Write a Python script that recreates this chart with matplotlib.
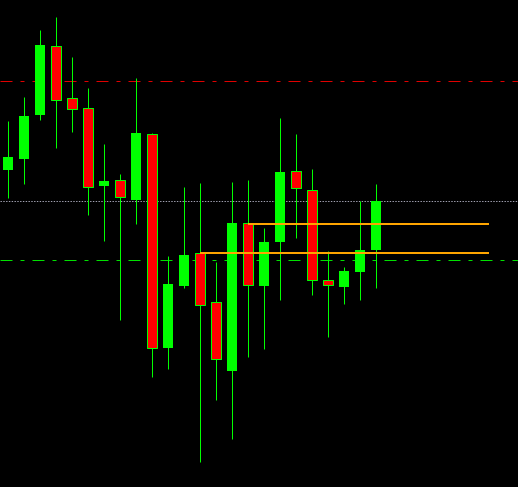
import numpy as np
import matplotlib.pyplot as plt

# OHLC values (price units)
opens  = [317, 328, 372, 441, 389, 379, 301, 307, 287, 353, 139, 201,
          234, 185, 116, 264, 201, 245, 316, 297, 207, 200, 215, 237]
highs  = [366, 390, 457, 470, 430, 399, 343, 313, 409, 354, 231, 300,
          304, 225, 305, 307, 259, 369, 353, 318, 236, 220, 286, 303]
lows   = [289, 303, 367, 339, 355, 272, 246, 167, 263, 110, 118, 199,
          25, 87, 48, 130, 138, 187, 249, 192, 150, 183, 187, 199]
closes = [330, 371, 442, 387, 378, 300, 306, 290, 354, 139, 203, 232,
          182, 128, 264, 202, 245, 315, 299, 207, 202, 216, 237, 286]

# horizontal levels
red_level = 406
green_level = 227
gray_level = 286
orange_upper = 263.5
orange_lower = 234.5
orange_upper_start = 15
orange_lower_start = 12
orange_end = 30.05

px = 0.72  # one pixel in points at dpi 100

fig = plt.figure(figsize=(5.18, 4.87), dpi=100, facecolor="black")
ax = fig.add_axes([0, 0, 1, 1])
ax.set_facecolor("black")

x = np.arange(len(opens))
green = "#00ff00"
red = "#ff0000"
width = 0.66

# levels
ax.axhline(red_level, color="#e00000", lw=px, linestyle=(0, (12, 8, 4, 8)))
ax.axhline(green_level, color="#00e000", lw=px, linestyle=(0, (12, 8, 4, 8)))
ax.axhline(gray_level, color="#a0a0b0", lw=px, linestyle=(0, (1.4, 1.4)))

for i in x:
    o, h, l, c = opens[i], highs[i], lows[i], closes[i]
    ax.vlines(i, l, h, color=green, lw=px, zorder=2)
    if c >= o:
        ax.bar(i, c - o, width, bottom=o, color=green, edgecolor=green,
               linewidth=0, zorder=3)
    else:
        ax.bar(i, o - c, width, bottom=c, color=red, edgecolor=green,
               linewidth=px, zorder=3)

ax.hlines(orange_upper, orange_upper_start, orange_end, color="#ffa500",
          lw=2 * px, zorder=4)
ax.hlines(orange_lower, orange_lower_start, orange_end, color="#ffa500",
          lw=2 * px, zorder=4)

ax.set_xlim(-0.5, 31.875)
ax.set_ylim(0, 487)
ax.axis("off")

fig.savefig("out.png", dpi=100, facecolor="black")
